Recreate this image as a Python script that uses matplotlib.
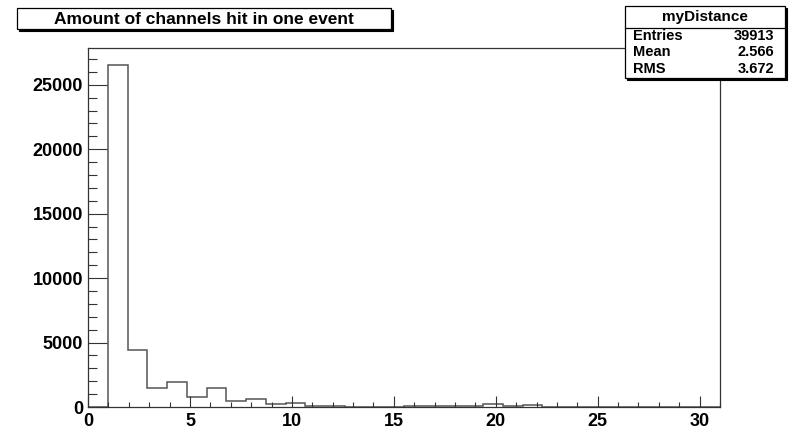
import matplotlib.pyplot as plt
import matplotlib.patches as mpatches
from matplotlib.ticker import MultipleLocator
import numpy as np

plt.rcParams['font.family'] = ['Liberation Sans', 'DejaVu Sans']
plt.rcParams['font.weight'] = 'bold'

# histogram: 32 bins over 0..31, bin k = k channels hit
counts = [0, 26530, 4460, 1476, 1974, 808, 1453, 497, 653, 210, 320,
          50, 80, 30, 20, 30, 50, 50, 100, 100, 200, 60, 120, 30, 20,
          40, 10, 5, 5, 0, 0, 0]
xmin, xmax = 0, 31
title = 'Amount of channels hit in one event'
stat_name = 'myDistance'
stat_labels = ['Entries', 'Mean', 'RMS']
stat_values = ['39913', '2.566', '3.672']

edges = np.linspace(xmin, xmax, len(counts) + 1)

fig = plt.figure(figsize=(7.98, 4.46), dpi=100)
ax = fig.add_axes([0.1103, 0.0874, 0.792, 0.805])

ax.stairs(counts, edges, color='#555555', lw=1.1, baseline=0)
ax.set_xlim(xmin, xmax)
ax.set_ylim(0, 1.05 * max(counts))

ax.xaxis.set_major_locator(MultipleLocator(5))
ax.xaxis.set_minor_locator(MultipleLocator(1))
ax.yaxis.set_major_locator(MultipleLocator(5000))
ax.yaxis.set_minor_locator(MultipleLocator(1000))
ax.tick_params(axis='both', which='both', direction='in', top=False, right=False,
               labelsize=13, width=0.8, color='#333333')
ax.tick_params(axis='x', which='major', length=7.8, pad=4)
ax.tick_params(axis='x', which='minor', length=3.9)
ax.tick_params(axis='y', which='major', length=13.7, pad=3.5)
ax.tick_params(axis='y', which='minor', length=6.8)
for lab in ax.get_xticklabels() + ax.get_yticklabels():
    lab.set_fontweight('bold')
for s in ax.spines.values():
    s.set_linewidth(0.9)
    s.set_color('#333333')

W, H = 798.0, 446.0


def pave(x0, y0, x1, y1):
    # box in pixel coords (top-left origin) with ROOT style shadow
    sh = mpatches.Rectangle((x0 / W + 2 / W, 1 - y1 / H - 2 / H), (x1 - x0) / W, (y1 - y0) / H,
                            transform=fig.transFigure, facecolor='black', edgecolor='black', lw=0.8)
    bx = mpatches.Rectangle((x0 / W, 1 - y1 / H), (x1 - x0) / W, (y1 - y0) / H,
                            transform=fig.transFigure, facecolor='white', edgecolor='black', lw=0.9)
    fig.add_artist(sh)
    fig.add_artist(bx)


# title box
pave(17, 8, 391, 29)
fig.text(204 / W, 1 - 24 / H, title, ha='center', va='baseline', fontsize=12.5, fontweight='bold')

# stats box
pave(625, 5.7, 785, 77.7)
fig.add_artist(plt.Line2D([625 / W, 785 / W], [1 - 27.5 / H, 1 - 27.5 / H],
                          transform=fig.transFigure, color='black', lw=0.9))
fig.text(705 / W, 1 - 21 / H, stat_name, ha='center', va='baseline', fontsize=11, fontweight='bold')
for i, (l, v) in enumerate(zip(stat_labels, stat_values)):
    yy = 1 - (40 + i * 16.5) / H
    fig.text(633 / W, yy, l, ha='left', va='baseline', fontsize=10.5, fontweight='bold')
    fig.text(774 / W, yy, v, ha='right', va='baseline', fontsize=10.5, fontweight='bold')

fig.savefig('out.png', dpi=100)
